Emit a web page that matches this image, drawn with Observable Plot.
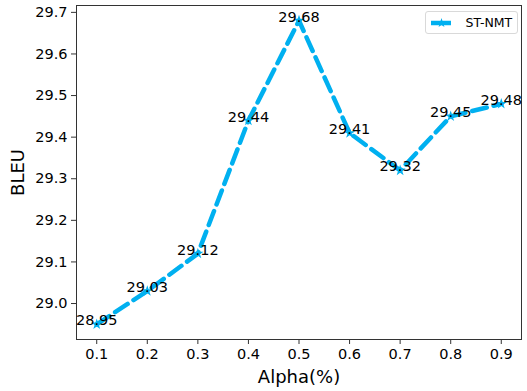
<!DOCTYPE html>
<html>
<head>
<meta charset="utf-8">
<script src="https://cdn.jsdelivr.net/npm/d3@7"></script>
<script src="https://cdn.jsdelivr.net/npm/@observablehq/plot@0.6"></script>
<style>
  body { margin: 0; background: white; }
  #chart { position: relative; width: 527px; height: 391px; }
  #legend { position: absolute; left: 425px; top: 11px; width: 93px; height: 23px; border: 1px solid #d9d9d9; border-radius: 3px; background: white; font-family: "DejaVu Sans"; font-size: 12px; box-sizing: border-box; }
</style>
</head>
<body>
<div id="chart"></div>
<script>
const alpha = [0.1, 0.2, 0.3, 0.4, 0.5, 0.6, 0.7, 0.8, 0.9];
const bleu = [28.95, 29.03, 29.12, 29.44, 29.68, 29.41, 29.32, 29.45, 29.48];
const xTicks = [0.1, 0.2, 0.3, 0.4, 0.5, 0.6, 0.7, 0.8, 0.9];
const yTicks = [29.0, 29.1, 29.2, 29.3, 29.4, 29.5, 29.6, 29.7];
const seriesName = "ST-NMT";
const color = "#00b0f0";

const data = alpha.map((a, i) => ({a, b: bleu[i]}));
const legendData = [{s: seriesName}];

const plot = Plot.plot({
  width: 527,
  height: 391,
  marginLeft: 76,
  marginRight: 6,
  marginTop: 5,
  marginBottom: 52,
  style: {fontFamily: "DejaVu Sans", fontSize: "14.5px", color: "black", background: "white"},
  x: {domain: [0.06, 0.94]},
  y: {domain: [28.9135, 29.7165]},
  marks: [
    Plot.axisX({ticks: xTicks, tickFormat: d3.format(".1f"), tickSize: 5, tickPadding: 4, label: null, stroke: "#333"}),
    Plot.axisX({ticks: [], label: "Alpha(%)", labelArrow: "none", labelAnchor: "center", labelOffset: 43, fontSize: 18}),
    Plot.axisY({ticks: yTicks, tickFormat: d3.format(".1f"), tickSize: 5, tickPadding: 4, label: null, stroke: "#333"}),
    Plot.axisY({ticks: [], label: "BLEU", labelArrow: "none", labelAnchor: "center", labelOffset: 65, fontSize: 18}),
    Plot.frame({stroke: "#333", strokeWidth: 1}),
    Plot.line(data, {x: "a", y: "b", stroke: color, strokeWidth: 4.5, strokeDasharray: "15,7"}),
    Plot.dot(data, {x: "a", y: "b", symbol: "star", r: 3.5, fill: color, stroke: "none"}),
    Plot.text(data, {x: "a", y: "b", text: d => d.b.toFixed(2), fill: "black", fontSize: 14.5, textAnchor: "middle", lineAnchor: "bottom", dy: 1})
  ]
});
const chart = document.getElementById("chart");
chart.appendChild(plot);

const legend = document.createElement("div");
legend.id = "legend";
chart.appendChild(legend);
const lp = Plot.plot({
  width: 91, height: 21, margin: 0,
  style: {fontFamily: "DejaVu Sans", fontSize: "12.5px", color: "black", background: "transparent"},
  x: {domain: [0, 91], axis: null},
  y: {domain: [0, 21], axis: null},
  marks: [
    Plot.ruleY(legendData, {x1: 5, x2: 25, y: 10.5, stroke: color, strokeWidth: 4.5}),
    Plot.dot(legendData, {x: 15, y: 10.5, symbol: "star", r: 3, fill: color}),
    Plot.text(legendData, {x: 39, y: 10.5, text: "s", textAnchor: "start", fill: "black"})
  ]
});
legend.appendChild(lp);
</script>
</body>
</html>
